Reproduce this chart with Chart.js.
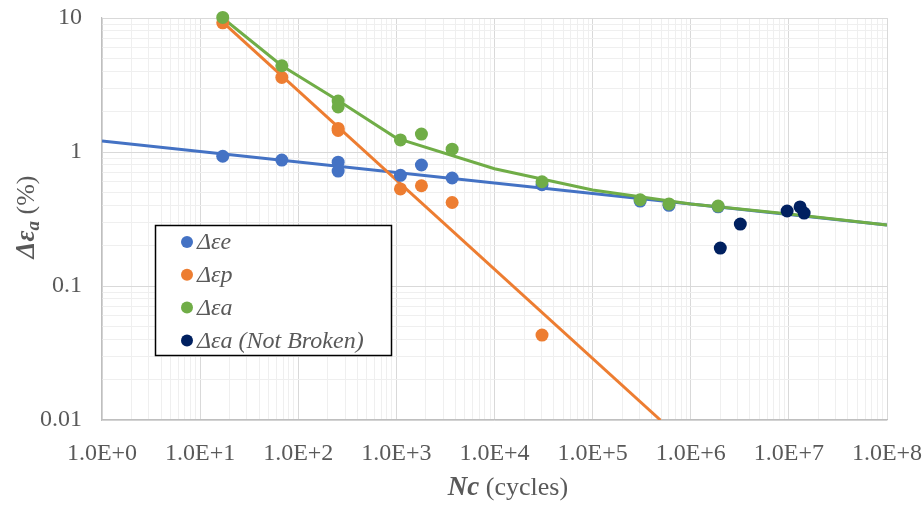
<!DOCTYPE html>
<html>
<head>
    <title>Strain amplitude vs cycles</title>
    <script src="https://cdn.jsdelivr.net/npm/chart.js"></script>
    <style>
        body { margin: 0; background: #fff; }
    </style>
</head>
<body>
    <canvas id="fatigueChart" width="924" height="507"></canvas>
    <script>
        // Measured points (Nc in cycles, strain in %)
        const elasticX = [17, 68, 255, 255, 1100, 1800, 3700, 30500, 305000, 600000, 1.9e6];
        const elasticY = [0.93, 0.87, 0.84, 0.72, 0.67, 0.80, 0.64, 0.57, 0.43, 0.40, 0.39];

        const plasticX = [17, 68, 255, 255, 1100, 1800, 3700, 30500];
        const plasticY = [9.2, 3.6, 1.5, 1.45, 0.53, 0.56, 0.42, 0.043];

        const totalX = [17, 68, 255, 255, 1100, 1800, 3700, 30500, 305000, 600000, 1.9e6];
        const totalY = [10.1, 4.4, 2.4, 2.17, 1.23, 1.36, 1.05, 0.60, 0.44, 0.41, 0.395];

        const notBrokenX = [2.0e6, 3.2e6, 9.6e6, 1.3e7, 1.43e7];
        const notBrokenY = [0.192, 0.29, 0.363, 0.389, 0.35];

        // Trend lines
        const elasticFitX = [1, 1e8];
        const elasticFitY = [1.21, 0.285];
        const plasticFitX = [17, 4.9e5];
        const plasticFitY = [9.3, 0.01];
        const totalFitX = [17, 68, 255, 1000, 1e4, 1e5, 1e6, 1e7, 1e8];
        const totalFitY = [10.0, 4.4, 2.42, 1.27, 0.75, 0.52, 0.41, 0.345, 0.285];

        const seriesLabels = ['Δεe', 'Δεp', 'Δεa', 'Δεa (Not Broken)'];
        const colors = ['#4472C4', '#ED7D31', '#70AD47', '#002060'];

        const xDecades = [0, 1, 2, 3, 4, 5, 6, 7, 8];
        const yDecades = [-2, -1, 0, 1];
        const yTickText = { '-2': '0.01', '-1': '0.1', '0': '1', '1': '10' };

        const pts = (xs, ys) => xs.map((x, i) => ({ x: x, y: ys[i] }));

        function logTicks(decades) {
            const out = [];
            for (let d = decades[0]; d <= decades[decades.length - 1]; d++) {
                const top = d === decades[decades.length - 1] ? 1 : 9;
                for (let s = 1; s <= top; s++) {
                    out.push({ value: s * Math.pow(10, d), major: s === 1, exp: d });
                }
            }
            return out;
        }

        const serif = '"Liberation Serif", "Times New Roman", serif';
        const gray = '#595959';

        function lineSet(xs, ys, color, order) {
            return {
                type: 'line', data: pts(xs, ys), borderColor: color, borderWidth: 3,
                pointRadius: 0, tension: 0, fill: false, order: order, label: '_fit'
            };
        }
        function pointSet(xs, ys, color, label, order) {
            return {
                type: 'scatter', data: pts(xs, ys), backgroundColor: color, borderWidth: 0,
                pointRadius: 6.5, pointHoverRadius: 6.5, showLine: false, clip: false,
                order: order, label: label
            };
        }

        const gridColor = ctx => (ctx.tick && ctx.tick.major) ? '#d9d9d9' : '#efefef';

        // Legend box and axis titles
        const decorations = {
            id: 'decorations',
            afterDraw(chart) {
                const c = chart.ctx;
                const area = chart.chartArea;
                c.save();

                // legend
                c.fillStyle = '#fff';
                c.fillRect(155, 225, 236, 130);
                c.strokeStyle = '#000';
                c.lineWidth = 1.5;
                c.strokeRect(155.5, 225.5, 236, 130);
                seriesLabels.forEach((lab, i) => {
                    const y = 242 + i * 32.8;
                    c.fillStyle = colors[i];
                    c.beginPath();
                    c.arc(187, y, 6, 0, Math.PI * 2);
                    c.fill();
                    c.fillStyle = gray;
                    c.font = 'italic 24px ' + serif;
                    c.textBaseline = 'middle';
                    c.textAlign = 'left';
                    c.fillText(lab, 197, y + 1);
                });

                // x title
                const xParts = [
                    { t: 'Nc', f: 'bold italic 27px ' + serif, dy: 0 },
                    { t: ' (cycles)', f: '26px ' + serif, dy: 0 }
                ];
                drawParts(c, xParts, 508, 488, 0);

                // y title
                const yParts = [
                    { t: 'Δε', f: 'bold italic 27px ' + serif, dy: 0 },
                    { t: 'a', f: 'bold italic 19px ' + serif, dy: 7 },
                    { t: ' (%)', f: '26px ' + serif, dy: 0 }
                ];
                drawParts(c, yParts, 27, 217, -Math.PI / 2);
                c.restore();
            }
        };

        function drawParts(c, parts, cx, cy, rot) {
            let total = 0;
            parts.forEach(p => { c.font = p.f; p.w = c.measureText(p.t).width; total += p.w; });
            c.save();
            c.translate(cx, cy);
            c.rotate(rot);
            c.fillStyle = gray;
            c.textBaseline = 'middle';
            c.textAlign = 'left';
            let x = -total / 2;
            parts.forEach(p => {
                c.font = p.f;
                c.fillText(p.t, x, p.dy);
                x += p.w;
            });
            c.restore();
        }

        const ctx = document.getElementById('fatigueChart').getContext('2d');
        new Chart(ctx, {
            data: {
                datasets: [
                    pointSet(notBrokenX, notBrokenY, colors[3], seriesLabels[3], 1),
                    pointSet(totalX, totalY, colors[2], seriesLabels[2], 2),
                    pointSet(plasticX, plasticY, colors[1], seriesLabels[1], 3),
                    pointSet(elasticX, elasticY, colors[0], seriesLabels[0], 4),
                    lineSet(totalFitX, totalFitY, colors[2], 5),
                    lineSet(plasticFitX, plasticFitY, colors[1], 6),
                    lineSet(elasticFitX, elasticFitY, colors[0], 7)
                ]
            },
            options: {
                responsive: false,
                animation: false,
                layout: { padding: { top: 18, right: 37, left: 0, bottom: 0 } },
                plugins: {
                    legend: { display: false },
                    tooltip: { enabled: false }
                },
                scales: {
                    x: {
                        type: 'logarithmic',
                        min: 1,
                        max: 1e8,
                        afterBuildTicks: s => { s.ticks = logTicks(xDecades); },
                        afterFit: s => { s.height = 87; s.paddingLeft = 0; s.paddingRight = 0; },
                        grid: { color: gridColor, lineWidth: 1, drawTicks: false },
                        border: { color: '#bfbfbf', width: 1.2 },
                        ticks: {
                            autoSkip: false,
                            maxRotation: 0,
                            padding: 19,
                            color: gray,
                            font: { family: serif, size: 24 },
                            callback: function (v, i, ticks) {
                                const t = ticks[i];
                                return t.major ? '1.0E+' + t.exp : '';
                            }
                        }
                    },
                    y: {
                        type: 'logarithmic',
                        min: 0.01,
                        max: 10,
                        afterBuildTicks: s => { s.ticks = logTicks(yDecades); },
                        afterFit: s => { s.width = 102; s.paddingTop = 0; s.paddingBottom = 0; },
                        grid: { color: gridColor, lineWidth: 1, drawTicks: false },
                        border: { color: '#bfbfbf', width: 1.2 },
                        ticks: {
                            autoSkip: false,
                            padding: 20,
                            color: gray,
                            font: { family: serif, size: 24 },
                            callback: function (v, i, ticks) {
                                const t = ticks[i];
                                return t.major ? yTickText[String(t.exp)] : '';
                            }
                        }
                    }
                }
            },
            plugins: [decorations]
        });
    </script>
</body>
</html>
